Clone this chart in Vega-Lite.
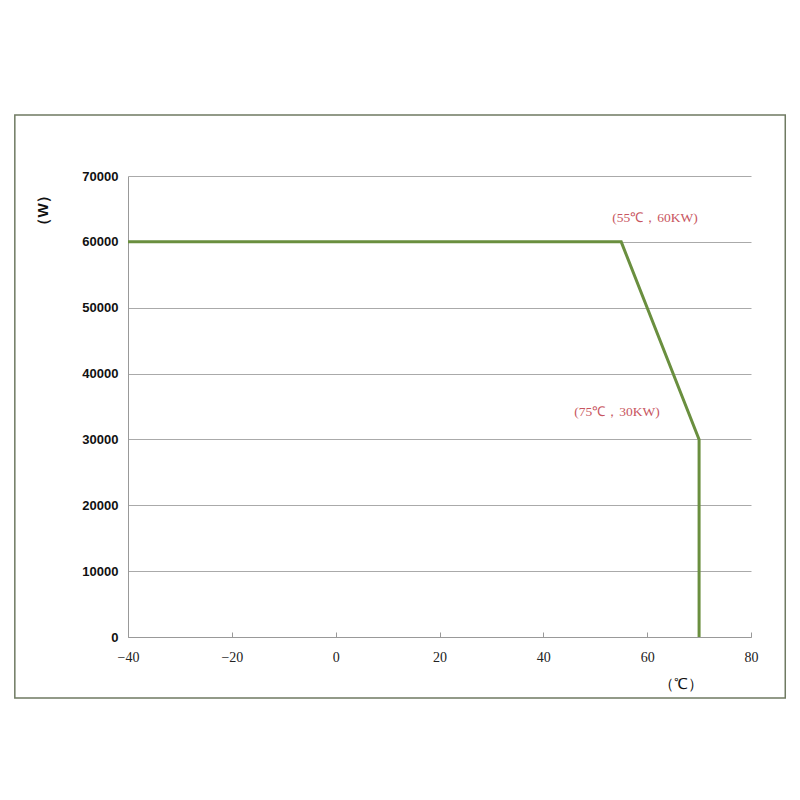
{
  "$schema": "https://vega.github.io/schema/vega-lite/v6.json",
  "width": 623,
  "height": 461,
  "autosize": {"type": "none"},
  "padding": {"left": 128, "top": 176, "right": 49, "bottom": 163},
  "background": "white",
  "config": {"view": {"stroke": null}},
  "datasets": {
    "curve": [
      {"temp": -40, "power": 60000},
      {"temp": 55, "power": 60000},
      {"temp": 70, "power": 30000},
      {"temp": 70, "power": 0}
    ],
    "notes": [
      {"temp": 61.5, "power": 63600, "label": "(55℃，60KW)"},
      {"temp": 54.2, "power": 34200, "label": "(75℃，30KW)"}
    ],
    "frame": [
      {"x1": -61.8, "x2": 86.6, "y1": -9260, "y2": 79260}
    ]
  },
  "encoding": {
    "x": {
      "type": "quantitative",
      "scale": {"domain": [-40, 80], "nice": false},
      "axis": {
        "values": [-40, -20, 0, 20, 40, 60, 80],
        "grid": false,
        "domainColor": "#999999",
        "tickColor": "#999999",
        "tickSize": -5,
        "labelFlush": false,
        "labelFont": "Liberation Serif",
        "labelFontSize": 14,
        "labelColor": "#222222",
        "labelPadding": 18,
        "title": "（℃）",
        "titleFont": "Liberation Sans",
        "titleFontSize": 15,
        "titleFontWeight": "normal",
        "titleColor": "#111111",
        "titleBaseline": "middle",
        "titleX": 552,
        "titleY": 46
      }
    },
    "y": {
      "type": "quantitative",
      "scale": {"domain": [0, 70000], "nice": false},
      "axis": {
        "values": [0, 10000, 20000, 30000, 40000, 50000, 60000, 70000],
        "format": "d",
        "grid": true,
        "gridColor": "#aaaaaa",
        "domainColor": "#999999",
        "ticks": false,
        "labelFont": "Liberation Sans",
        "labelFontSize": 13,
        "labelFontWeight": "bold",
        "labelColor": "#111111",
        "labelPadding": 10,
        "title": "（W）",
        "titleFont": "Liberation Sans",
        "titleFontSize": 15,
        "titleFontWeight": "bold",
        "titleColor": "#111111",
        "titleAngle": -90,
        "titleAlign": "center",
        "titleBaseline": "middle",
        "titleX": -86,
        "titleY": 34
      }
    }
  },
  "layer": [
    {
      "data": {"name": "frame"},
      "mark": {"type": "rect", "fill": null, "stroke": "#6f7a62", "strokeWidth": 1.5, "clip": false},
      "encoding": {
        "x": {"field": "x1"},
        "x2": {"field": "x2"},
        "y": {"field": "y1"},
        "y2": {"field": "y2"}
      }
    },
    {
      "data": {"name": "curve"},
      "mark": {"type": "line", "color": "#6a8f3f", "strokeWidth": 3},
      "encoding": {
        "x": {"field": "temp"},
        "y": {"field": "power"},
        "order": {"value": 0}
      }
    },
    {
      "data": {"name": "notes"},
      "mark": {"type": "text", "color": "#c85560", "font": "Liberation Serif", "fontSize": 13.5},
      "encoding": {
        "x": {"field": "temp"},
        "y": {"field": "power"},
        "text": {"field": "label"}
      }
    }
  ]
}
